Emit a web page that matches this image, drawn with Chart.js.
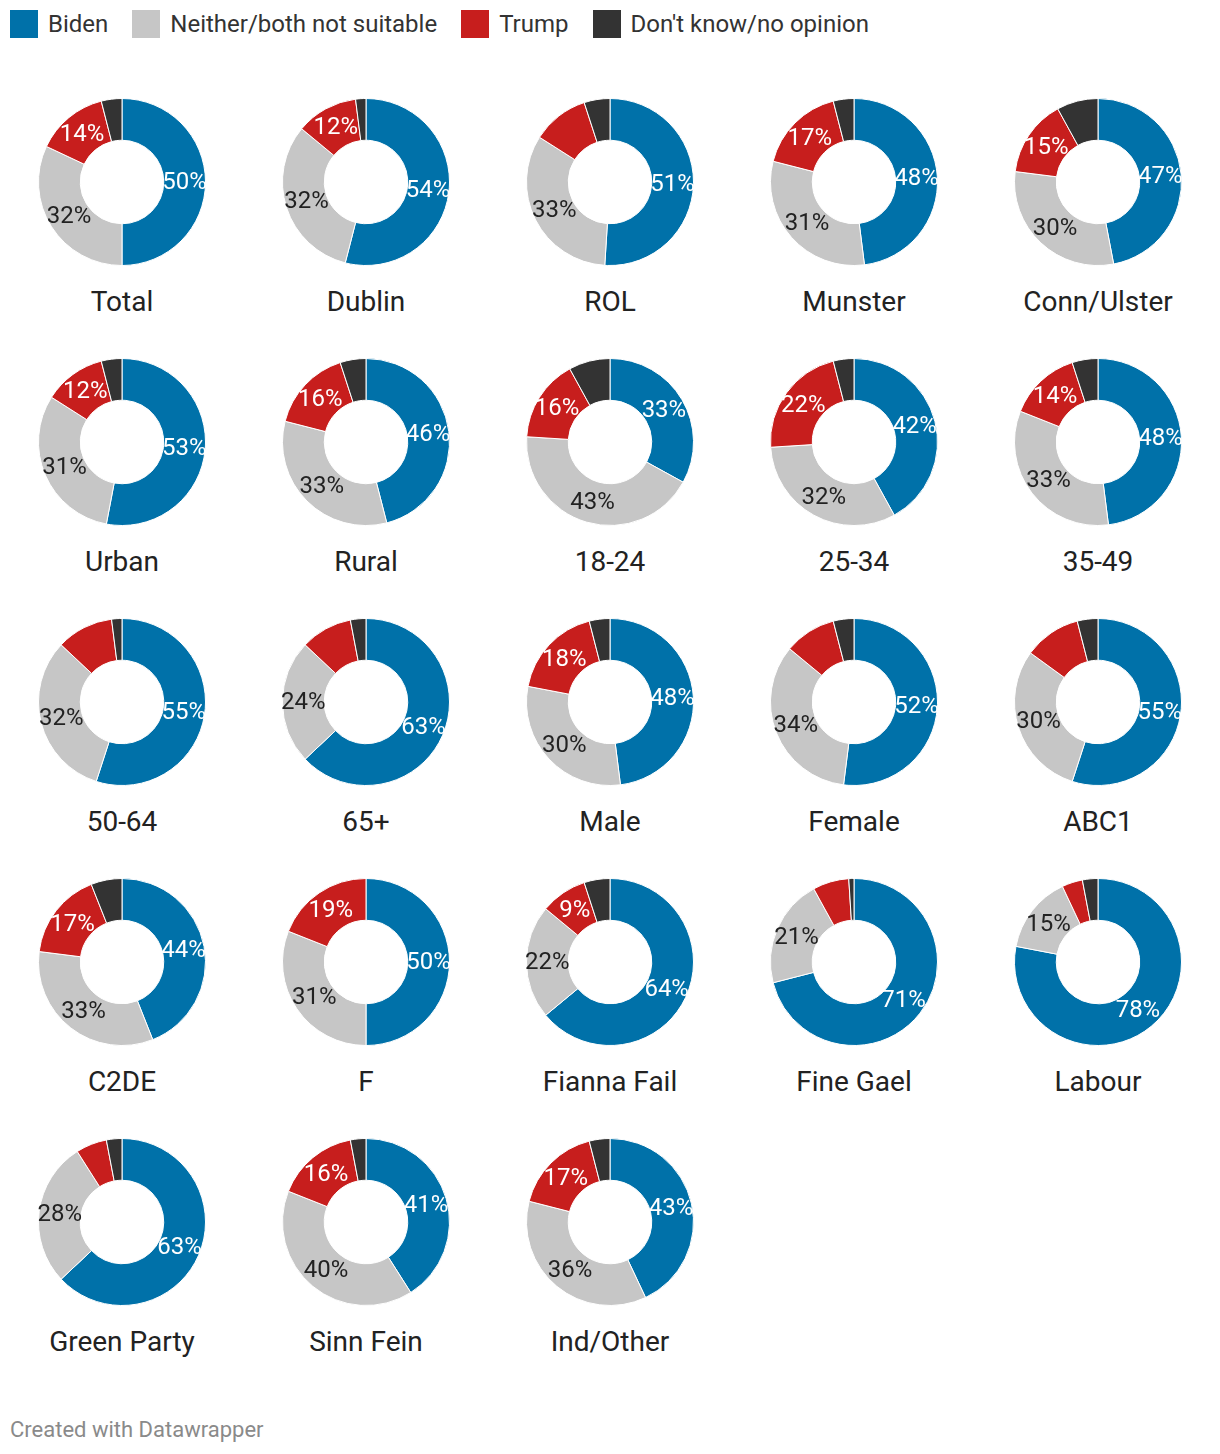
<!DOCTYPE html>
<html>
<head>
<meta charset="utf-8">
<script src="https://cdn.jsdelivr.net/npm/chart.js@4"></script>
<style>
  body { margin: 0; background: #fff; font-family: Roboto, sans-serif; color: #333; }
  #page { position: relative; width: 1220px; height: 1454px; }
  .legend { position: absolute; top: 10px; left: 10px; display: flex; font-size: 24px; line-height: 28px; }
  .legend span.item { display: flex; align-items: center; margin-right: 24px; }
  .legend i { display: inline-block; width: 28px; height: 28px; margin-right: 10px; }
  .cell { position: absolute; width: 244px; }
  .cell canvas { display: block; }
  .cell .name { position: absolute; left: 0; width: 244px; top: 204px; text-align: center; font-size: 28px; line-height: 32px; color: #222; }
  .footer { position: absolute; left: 10px; top: 1417px; font-size: 22px; color: #8a8a8a; }
</style>
</head>
<body>
<div id="page">
  <div class="legend" id="legend"></div>
  <div id="grid"></div>
  <div class="footer">Created with Datawrapper</div>
</div>
<script>
// poll results per group (%)
const categories = ['Total', 'Dublin', 'ROL', 'Munster', 'Conn/Ulster',
  'Urban', 'Rural', '18-24', '25-34', '35-49',
  '50-64', '65+', 'Male', 'Female', 'ABC1',
  'C2DE', 'F', 'Fianna Fail', 'Fine Gael', 'Labour',
  'Green Party', 'Sinn Fein', 'Ind/Other'];
const biden    = [50, 54, 51, 48, 47, 53, 46, 33, 42, 48, 55, 63, 48, 52, 55, 44, 50, 64, 71, 78, 63, 41, 43];
const neither  = [32, 32, 33, 31, 30, 31, 33, 43, 32, 33, 32, 24, 30, 34, 30, 33, 31, 22, 21, 15, 28, 40, 36];
const trump    = [14, 12, 11, 17, 15, 12, 16, 16, 22, 14, 11, 10, 18, 10, 11, 17, 19,  9,  7,  4,  6, 16, 17];
const dontKnow = [ 4,  2,  5,  4,  8,  4,  5,  8,  4,  5,  2,  3,  4,  4,  4,  6,  0,  5,  1,  3,  3,  3,  4];

const seriesNames = ['Biden', 'Neither/both not suitable', 'Trump', "Don't know/no opinion"];
const colors = ['#0071a9', '#c6c6c6', '#c71e1d', '#333333'];
const labelColors = ['#fff', '#222', '#fff', '#fff'];

// datawrapper hides small labels; 9% in Fianna Fail still fits
const minLabel = 12;
const extraLabels = { 'Fianna Fail': [2] };

const legend = document.getElementById('legend');
seriesNames.forEach((name, i) => {
  const item = document.createElement('span');
  item.className = 'item';
  item.innerHTML = `<i style="background:${colors[i]}"></i>${name}`;
  legend.appendChild(item);
});

const pctLabels = {
  id: 'pctLabels',
  afterDatasetsDraw(chart) {
    const ctx = chart.ctx;
    const ds = chart.data.datasets[0];
    const cat = chart.options.plugins.pctLabels.category;
    const extra = extraLabels[cat] || [];
    ctx.save();
    ctx.font = '24px Roboto';
    ctx.textAlign = 'center';
    ctx.textBaseline = 'middle';
    chart.getDatasetMeta(0).data.forEach((arc, i) => {
      const v = ds.data[i];
      if (v < minLabel && !extra.includes(i)) return;
      const p = arc.getCenterPoint();
      ctx.fillStyle = labelColors[i];
      ctx.fillText(v + '%', p.x, p.y + 1);
    });
    ctx.restore();
  }
};

const grid = document.getElementById('grid');
categories.forEach((cat, k) => {
  const col = k % 5, row = Math.floor(k / 5);
  const cell = document.createElement('div');
  cell.className = 'cell';
  cell.style.left = (col * 244) + 'px';
  cell.style.top = (82 + row * 260) + 'px';
  const canvas = document.createElement('canvas');
  canvas.width = 244;
  canvas.height = 200;
  cell.appendChild(canvas);
  const name = document.createElement('div');
  name.className = 'name';
  name.textContent = cat;
  cell.appendChild(name);
  grid.appendChild(cell);

  new Chart(canvas.getContext('2d'), {
    type: 'doughnut',
    data: {
      labels: seriesNames,
      datasets: [{
        data: [biden[k], neither[k], trump[k], dontKnow[k]],
        backgroundColor: colors,
        borderColor: '#fff',
        borderWidth: 1
      }]
    },
    options: {
      responsive: false,
      animation: false,
      cutout: '50%',
      layout: { padding: { top: 16, bottom: 16, left: 38, right: 38 } },
      plugins: {
        legend: { display: false },
        tooltip: { enabled: false },
        pctLabels: { category: cat }
      }
    },
    plugins: [pctLabels]
  });
});
</script>
</body>
</html>
